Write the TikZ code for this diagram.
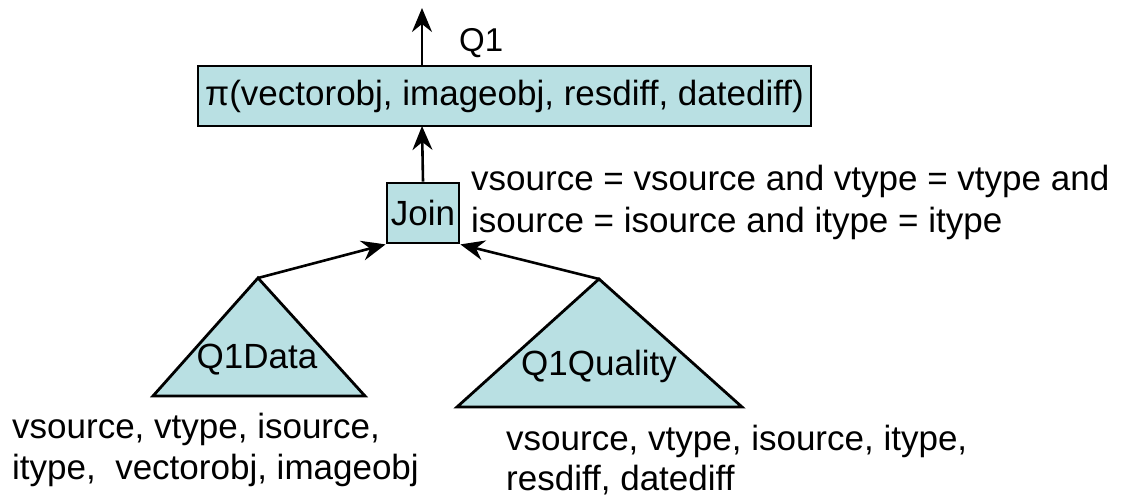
\documentclass[tikz,border=0pt]{standalone}
\usepackage{fontspec}
\setmainfont{Liberation Sans}
\usetikzlibrary{arrows.meta}

\definecolor{opfill}{RGB}{185,224,227}

\begin{document}
\begin{tikzpicture}[x=1pt,y=-1pt,
  txt/.style={font=\fontsize{35}{41}\selectfont, inner sep=0pt},
  opbox/.style={draw=black, line width=2.8pt, fill=opfill, inner sep=0pt,
                font=\fontsize{35}{41}\selectfont},
  tree/.style={draw=black, line width=2.8pt, fill=opfill, line join=miter},
  flow/.style={line width=2.6pt, -{Stealth[length=24pt 0,width=20pt 0,inset=8pt 0]}}]
  \useasboundingbox (0,0) rectangle (1126,497);

  % projection and join operators
  \node[opbox, minimum width=613pt, minimum height=60pt] (proj) at (504.5,96)
    {π(vectorobj, imageobj, resdiff, datediff)};
  \node[opbox, minimum width=72pt, minimum height=60pt] (join) at (423,213) {Join};
  \coordinate (out) at (422,8);
  \coordinate (projin) at (422,126);
  \coordinate (projout) at (422,66);

  % sub-query triangles
  \coordinate (dtop) at (258,278);
  \coordinate (qtop) at (599,279);
  \path[tree] (dtop) -- (153,396) -- (365,396) -- cycle;
  \path[tree] (qtop) -- (457,407) -- (742,407) -- cycle;
  \node[txt, anchor=base] (ddata) at (257,368) {Q1Data};
  \node[txt, anchor=base] (qqual) at (599,375) {Q1Quality};

  % connectors
  \draw[flow] (projout) -- (out);
  \draw[flow] (join.north) -- (projin);
  \draw[flow] (dtop) -- (join.south west);
  \draw[flow] (qtop) -- (join.south east);

  % labels
  \node[txt, anchor=base west, font=\fontsize{33}{39}\selectfont] (qname) at (459,52) {Q1};
  \node[txt, anchor=base west] (cond1) at (471,190) {vsource = vsource and vtype = vtype and};
  \node[txt, anchor=base west] (cond2) at (471,232) {isource = isource and itype = itype};
  \node[txt, anchor=base west] (datt1) at (12,438) {vsource, vtype, isource,};
  \node[txt, anchor=base west] (datt2) at (12,479) {itype,~ vectorobj, imageobj};
  \node[txt, anchor=base west] (qatt1) at (506,450) {vsource, vtype, isource, itype,};
  \node[txt, anchor=base west] (qatt2) at (506,490) {resdiff, datediff};
\end{tikzpicture}
\end{document}
